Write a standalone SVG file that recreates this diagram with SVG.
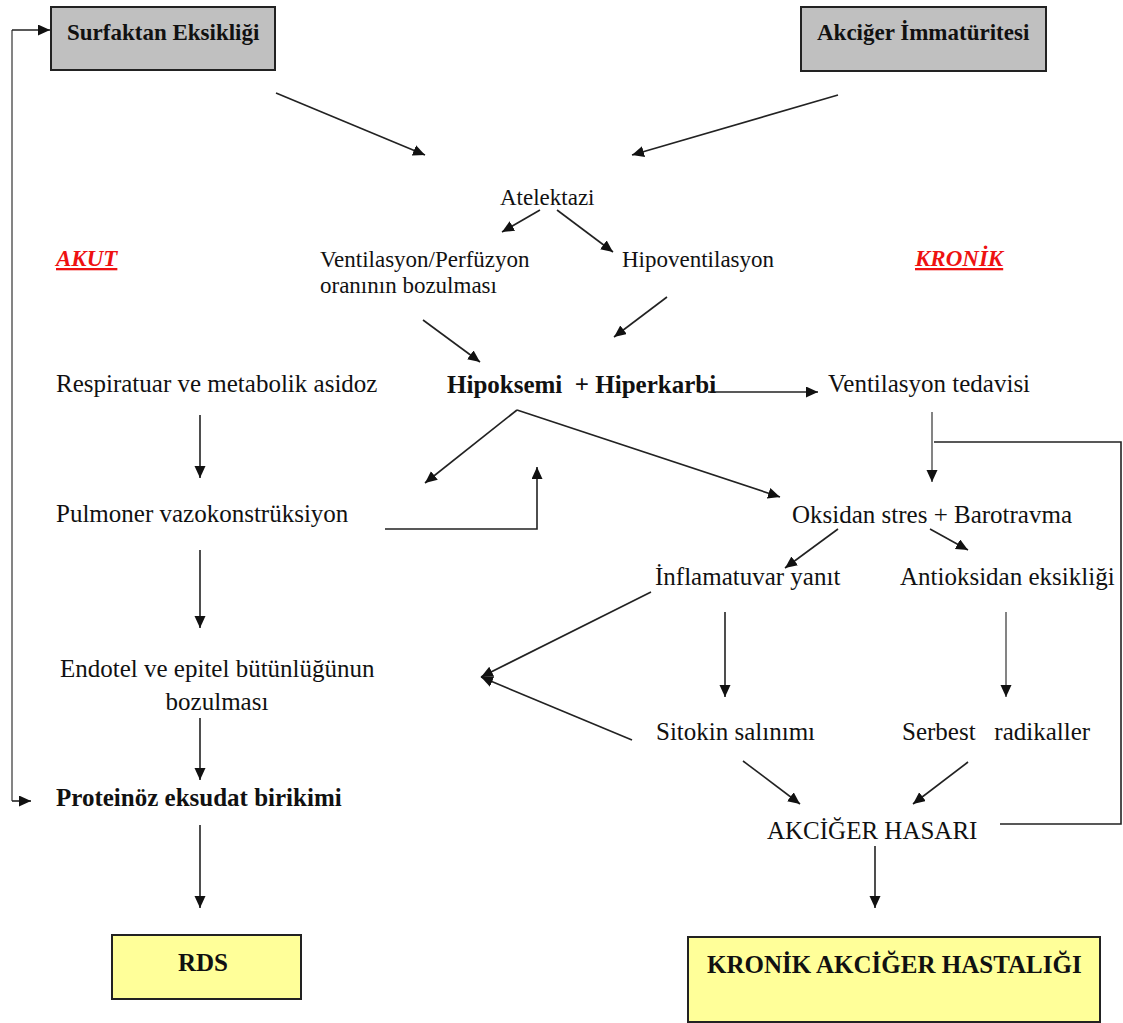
<svg xmlns="http://www.w3.org/2000/svg" width="1123" height="1023" viewBox="0 0 1123 1023">
  <style>
    .t { font-family: "Liberation Serif", "Times New Roman", serif; font-size: 25px; fill: #111; }
    .s { font-size: 23px; }
    .b { font-weight: bold; }
    .red { font-family: "Liberation Serif", "Times New Roman", serif; font-size: 23px; font-weight: bold; font-style: italic; fill: #ee1111; text-decoration: underline; }
    .gray { fill: #c0c0c0; stroke: #222; stroke-width: 2; }
    .yel { fill: #ffff99; stroke: #222; stroke-width: 2; }
    .c { fill: none; stroke: #222; stroke-width: 1.6; }
    .cg { fill: none; stroke: #777; stroke-width: 1.8; }
    .a { marker-end: url(#arr); }
  </style>
  <defs>
    <marker id="arr" markerUnits="userSpaceOnUse" markerWidth="13" markerHeight="12" refX="12" refY="5.5" orient="auto">
      <path d="M0,0 L12,5.5 L0,11 z" fill="#111"/>
    </marker>
  </defs>
  <rect width="1123" height="1023" fill="#fff"/>

  <!-- connectors -->
  <g id="connectors">
    <!-- feedback from exudate back to surfactant -->
    <polyline class="cg" points="12,801 12,30"/>
    <line class="c a" x1="12" y1="30" x2="50" y2="30"/>
    <line class="c a" x1="12" y1="801" x2="31" y2="801"/>

    <line class="c a" x1="276" y1="93" x2="425" y2="155"/>
    <line class="c a" x1="838" y1="95" x2="632" y2="155"/>
    <line class="c a" x1="540" y1="210" x2="502" y2="232"/>
    <line class="c a" x1="557" y1="210" x2="613" y2="252"/>
    <line class="c a" x1="423" y1="320" x2="480" y2="362"/>
    <line class="c a" x1="667" y1="297" x2="614" y2="337"/>
    <line class="c a" x1="708" y1="392" x2="818" y2="392"/>

    <line class="c a" x1="200" y1="415" x2="200" y2="478"/>
    <polyline class="c a" points="385,529 537,529 537,467"/>
    <line class="c a" x1="517" y1="410" x2="425" y2="483"/>
    <line class="c a" x1="517" y1="410" x2="780" y2="497"/>

    <line class="cg a" x1="932" y1="412" x2="932" y2="482"/>
    <polyline class="c" points="934,442 1121,442 1121,824 1000,824"/>

    <line class="c a" x1="838" y1="529" x2="785" y2="568"/>
    <line class="c a" x1="930" y1="529" x2="968" y2="550"/>

    <line class="c a" x1="200" y1="550" x2="200" y2="628"/>
    <line class="c a" x1="651" y1="592" x2="481" y2="677"/>
    <line class="c a" x1="632" y1="740" x2="481" y2="677"/>
    <line class="c a" x1="725" y1="612" x2="725" y2="697"/>
    <line class="cg a" x1="1006" y1="612" x2="1006" y2="697"/>

    <line class="c a" x1="200" y1="718" x2="200" y2="780"/>
    <line class="c a" x1="743" y1="761" x2="800" y2="804"/>
    <line class="c a" x1="968" y1="762" x2="913" y2="804"/>

    <line class="c a" x1="200" y1="825" x2="200" y2="908"/>
    <line class="c a" x1="875" y1="846" x2="875" y2="908"/>
  </g>

  <!-- nodes -->
  <g id="surfaktan">
    <rect class="gray" x="51" y="7" width="224" height="63"/>
    <text class="t b s" x="67" y="40">Surfaktan Eksikliği</text>
  </g>
  <g id="immaturite">
    <rect class="gray" x="801" y="7" width="245" height="64"/>
    <text class="t b s" x="817" y="40">Akciğer İmmatüritesi</text>
  </g>
  <g id="atelektazi">
    <text class="t s" x="500" y="205">Atelektazi</text>
  </g>
  <g id="akut">
    <text class="red" x="56" y="266">AKUT</text>
  </g>
  <g id="kronik">
    <text class="red" x="915" y="266">KRONİK</text>
  </g>
  <g id="vp-oran">
    <text class="t s" x="320" y="267">Ventilasyon/Perfüzyon</text>
    <text class="t s" x="320" y="293">oranının bozulması</text>
  </g>
  <g id="hipoventilasyon">
    <text class="t s" x="622" y="267">Hipoventilasyon</text>
  </g>
  <g id="asidoz">
    <text class="t" x="56" y="392">Respiratuar ve metabolik asidoz</text>
  </g>
  <g id="hipoksemi">
    <text class="t b" x="447" y="393" xml:space="preserve">Hipoksemi  + Hiperkarbi</text>
  </g>
  <g id="ventilasyon-tedavisi">
    <text class="t" x="828" y="392">Ventilasyon tedavisi</text>
  </g>
  <g id="vazokonstruksiyon">
    <text class="t" x="56" y="522">Pulmoner vazokonstrüksiyon</text>
  </g>
  <g id="oksidan-stres">
    <text class="t" x="792" y="523">Oksidan stres + Barotravma</text>
  </g>
  <g id="inflamasyon">
    <text class="t" x="655" y="585">İnflamatuvar yanıt</text>
  </g>
  <g id="antioksidan">
    <text class="t" x="900" y="585">Antioksidan eksikliği</text>
  </g>
  <g id="endotel">
    <text class="t" x="60" y="677">Endotel ve epitel bütünlüğünun</text>
    <text class="t" x="217" y="710" text-anchor="middle">bozulması</text>
  </g>
  <g id="sitokin">
    <text class="t" x="656" y="740">Sitokin salınımı</text>
  </g>
  <g id="serbest-radikal">
    <text class="t" x="902" y="740" xml:space="preserve">Serbest   radikaller</text>
  </g>
  <g id="eksudat">
    <text class="t b" x="56" y="806">Proteinöz eksudat birikimi</text>
  </g>
  <g id="akciger-hasari">
    <text class="t" x="767" y="839">AKCİĞER HASARI</text>
  </g>
  <g id="rds">
    <rect class="yel" x="112" y="935" width="189" height="64"/>
    <text class="t b" x="178" y="971">RDS</text>
  </g>
  <g id="kah">
    <rect class="yel" x="688" y="937" width="412" height="85"/>
    <text class="t b" x="707" y="973">KRONİK AKCİĞER HASTALIĞI</text>
  </g>
</svg>
